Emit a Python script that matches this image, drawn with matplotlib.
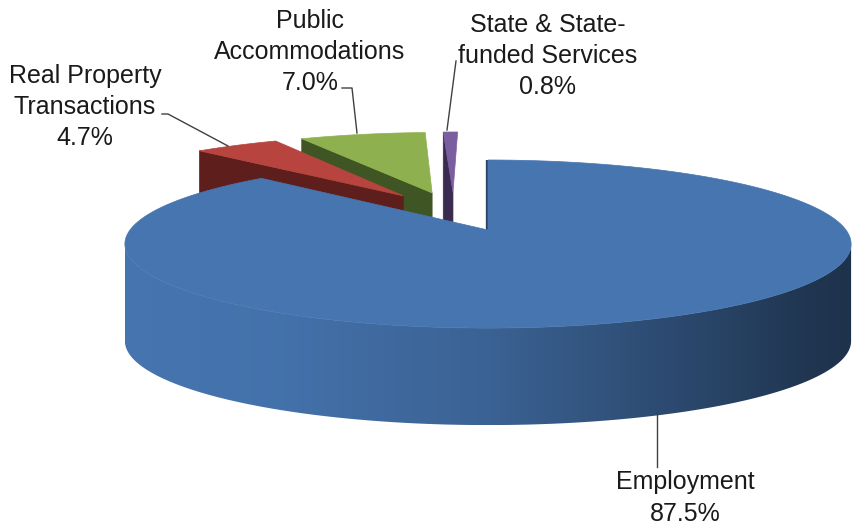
import numpy as np
import matplotlib
matplotlib.use('agg')
import matplotlib.pyplot as plt
from matplotlib.patches import Polygon
from matplotlib.colors import to_rgb

# data
categories = ['Employment', 'Real Property\nTransactions',
              'Public\nAccommodations', 'State & State-\nfunded Services']
shares = [87.5, 4.7, 7.0, 0.8]

# styles
top_colors = ['#4675b0', '#b84440', '#8fb04e', '#7b5ea0']
dark_colors = ['#2a4468', '#5e1e1c', '#3f5523', '#3a2c50']

# fake 3d view (pixels), apex of the first slice is the reference point
X0, Y0 = 488, 230
RX, RY = 358, 81.7
K = 0.167          # perspective
DEPTH = 97
EXPLODE = 0.26

# label layout (pixels): text centre, leader line points
label_pos = [(685, 498), (85, 107), (310, 52), (548, 56)]
leaders = [[(657, 467), (657, 412)],
           [(162, 114), (168, 114), (228, 146)],
           [(342, 88), (352, 88), (357, 133)],
           [(456, 61), (447, 130)]]


def proj(u, v, z=0.0):
    d = 1 + K * v
    return X0 + RX * u / d, Y0 - RY * v / d + z


def side_shade(theta):
    c = np.cos(theta)
    return np.interp(c, [-1, -0.5, 0, 0.5, 0.8, 1],
                     [1.0, 0.97, 0.84, 0.6, 0.46, 0.42])


fig = plt.figure(figsize=(8.53, 5.26), dpi=100)
ax = fig.add_axes([0, 0, 1, 1])

frac = np.array(shares) / np.sum(shares)
starts = np.deg2rad(90 - 360 * np.concatenate([[0], np.cumsum(frac)[:-1]]))
ends = starts - 2 * np.pi * frac
mids = (starts + ends) / 2
offs = [(EXPLODE * (np.cos(m) - np.cos(mids[0])),
         EXPLODE * (np.sin(m) - np.sin(mids[0]))) for m in mids]


def radial_face(i, a, du, dv, lw=0.5):
    apex = proj(du, dv)
    apex_b = proj(du, dv, DEPTH)
    r_t = proj(du + np.cos(a), dv + np.sin(a))
    r_b = proj(du + np.cos(a), dv + np.sin(a), DEPTH)
    ax.add_patch(Polygon([apex, r_t, r_b, apex_b], closed=True,
                         facecolor=dark_colors[i], edgecolor=dark_colors[i], lw=lw))


def draw_slice(i):
    a0, a1 = starts[i], ends[i]
    du, dv = offs[i]
    th = np.linspace(a1, a0, max(int(abs(a0 - a1) * 150), 6))
    top = [proj(du + np.cos(t), dv + np.sin(t)) for t in th]
    apex = proj(du, dv)

    if np.cos(a0) < -1e-6:
        radial_face(i, a0, du, dv)
    elif abs(np.cos(a0)) <= 1e-6:
        radial_face(i, a0, du, dv, lw=3)
    if np.cos(a1) > 1e-6:
        radial_face(i, a1, du, dv)

    # outer rim, visible part only (in front of the silhouette), shaded
    front = th[np.sin(th) < -K]
    if len(front) > 1:
        tpts = [proj(du + np.cos(t), dv + np.sin(t)) for t in front]
        bpts = [proj(du + np.cos(t), dv + np.sin(t), DEPTH) for t in front]
        xs = np.array([p[0] for p in tpts])
        order = np.argsort(xs)
        side = Polygon(tpts + bpts[::-1], closed=True, facecolor='none',
                       edgecolor='none')
        ax.add_patch(side)
        base = np.array(to_rgb(top_colors[i]))
        gx = np.linspace(xs.min(), xs.max(), 400)
        sh = np.interp(gx, xs[order], side_shade(front[order]))
        img = np.clip(base[None, None, :] * sh[None, :, None], 0, 1)
        ytop = min(p[1] for p in tpts)
        ybot = max(p[1] for p in bpts)
        im = ax.imshow(img, extent=(xs.min(), xs.max(), ybot, ytop),
                       aspect='auto', interpolation='bilinear', zorder=1)
        im.set_clip_path(side)

    ax.add_patch(Polygon([apex] + top, closed=True, facecolor=top_colors[i],
                         edgecolor=top_colors[i], lw=0.5, zorder=1))


# back slices first, the big one last
for i in [3, 2, 1, 0]:
    draw_slice(i)

ax.set_xlim(0, 853)
ax.set_ylim(526, 0)
ax.axis('off')

for i, name in enumerate(categories):
    xs, ys = zip(*leaders[i])
    ax.plot(xs, ys, color='#404040', lw=1.0, zorder=3)
    ax.text(label_pos[i][0], label_pos[i][1], f'{name}\n{shares[i]:.1f}%',
            ha='center', va='center', fontsize=18, family='Liberation Sans',
            color='#1a1a1a', linespacing=1.38, zorder=4)

fig.savefig('out.png', dpi=100)
